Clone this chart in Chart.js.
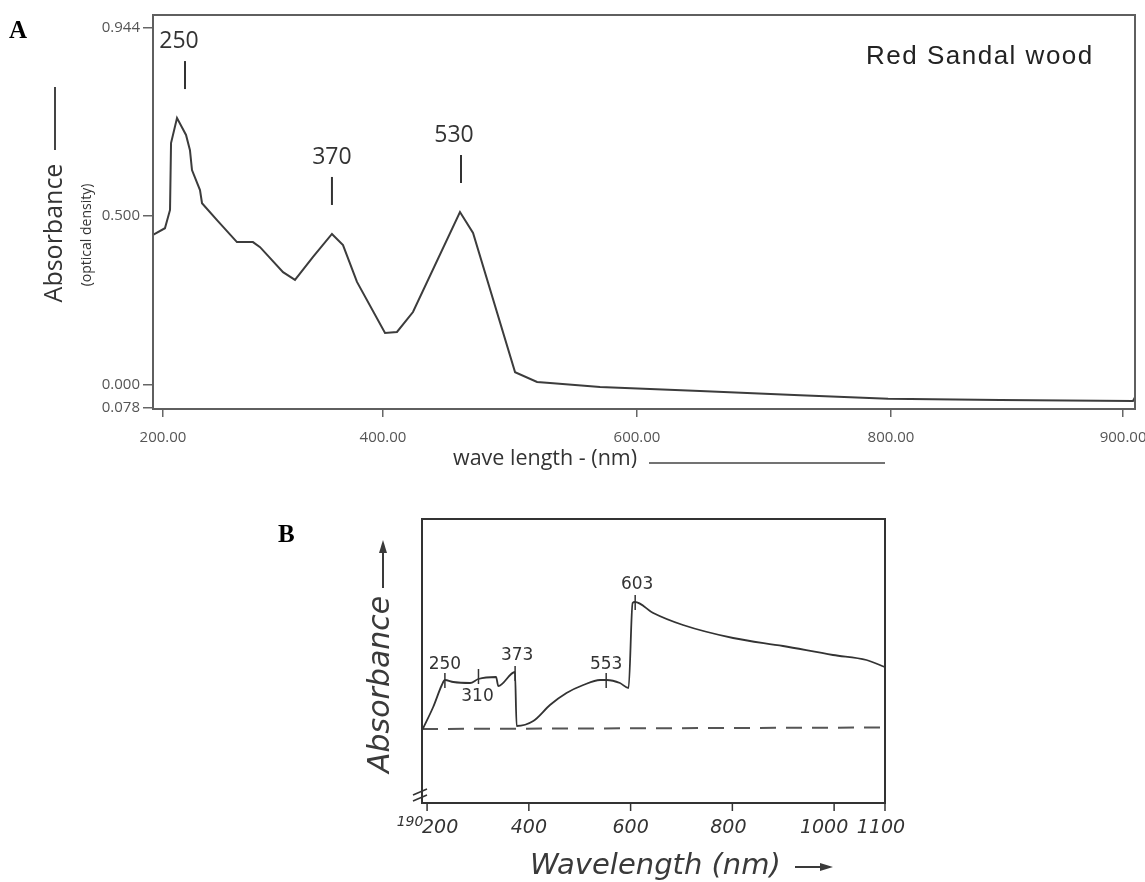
<!DOCTYPE html>
<html>
<head>
<meta charset="utf-8">
<script src="https://cdn.jsdelivr.net/npm/chart.js@4.4.1/dist/chart.umd.min.js"></script>
<style>
    html, body { margin: 0; background: #fff; }
    body { width: 1145px; height: 882px; position: relative; overflow: hidden; }
    canvas { position: absolute; }
    #chartA { left: 0; top: 0; }
    #chartB { left: 260px; top: 480px; }
</style>
</head>
<body>
<canvas id="chartA" width="1145" height="475"></canvas>
<canvas id="chartB" width="660" height="402"></canvas>
<script>
// ---- Panel A: Red Sandal wood spectrum (axis is drawn as printed, not to scale) ----
const aSample = 'Red Sandal wood';
const aWave = [218.9, 228.3, 232.3, 233.1, 237.8, 244.9, 248.0, 249.6, 255.9, 257.5, 269.3, 285.0, 297.6, 303.2,
               321.3, 330.7, 344.9, 359.8, 368.5, 379.5, 401.6, 411.0, 423.6, 460.6, 470.9, 504.0, 521.3, 531.5,
               570.9, 649.6, 728.4, 797.7, 885.8, 990.5, 992.1];
const aAbs = [0.444, 0.464, 0.518, 0.716, 0.790, 0.740, 0.695, 0.636, 0.577, 0.538, 0.488, 0.423, 0.423, 0.408,
              0.334, 0.311, 0.379, 0.447, 0.414, 0.305, 0.154, 0.157, 0.216, 0.512, 0.450, 0.038, 0.009, 0.006,
              -0.006, -0.018, -0.030, -0.041, -0.044, -0.047, -0.036];
const aTickWave = [226.8, 400, 600, 800, 982.7];
const aTickLabels = ['200.00', '400.00', '600.00', '800.00', '900.00'];
const aTickAbs = [-0.068, 0, 0.5, 1.056];
const aTickAbsLabels = ['0.078', '0.000', '0.500', '0.944'];
const aPeakWave = [244.1, 359.8, 461.4];
const aPeakAbs = [0.79, 0.447, 0.512];
const aPeakLabels = ['250', '370', '530'];
const aPeakDx = [-6, 0, -7];

// ---- Panel B: hand drawn spectrum ----
const bWave = [191.4, 212, 229, 235, 251.6, 284.5, 300.8, 335.5, 340, 372.7, 376, 408.7, 441.5, 474, 507, 540, 553,
               579, 596, 603.9, 608.5, 644.5, 703, 801.5, 899.6, 997.8, 1063.6, 1099.5];
const bAbs = [0.00, 0.22, 0.44, 0.49, 0.47, 0.46, 0.50, 0.52, 0.43, 0.57, 0.03, 0.08, 0.24, 0.36, 0.44, 0.49, 0.49,
              0.46, 0.41, 1.26, 1.27, 1.16, 1.04, 0.91, 0.83, 0.74, 0.69, 0.62];
const bBaseWave = [190, 1100];
const bBaseAbs = [0.0, 0.015];
const bTickWave = [190, 200, 400, 600, 800, 1000, 1100];
const bTickLabels = ['190', '200', '400', '600', '800', '1000', '1100'];
const bTickDx = [-12, 13, 0, 0, -4, -10, -4];
const bPeakWave = [235, 301, 373, 552, 609];
const bPeakAbs = [0.48, 0.52, 0.55, 0.48, 1.26];
const bPeakLabels = ['250', '310', '373', '553', '603'];
const bPeakDx = [0, -1, 2, 0, 2];
const bPeakDy = [-16, 20, -18, -16, -18];

const toPoints = (xs, ys) => xs.map((v, i) => ({ x: v, y: ys[i] }));

function drawArrow(ctx, x1, y1, x2, y2) {
    const ang = Math.atan2(y2 - y1, x2 - x1);
    ctx.beginPath();
    ctx.moveTo(x1, y1);
    ctx.lineTo(x2, y2);
    ctx.stroke();
    ctx.beginPath();
    ctx.moveTo(x2 + 3 * Math.cos(ang), y2 + 3 * Math.sin(ang));
    ctx.lineTo(x2 - 10 * Math.cos(ang) + 4 * Math.sin(ang), y2 - 10 * Math.sin(ang) - 4 * Math.cos(ang));
    ctx.lineTo(x2 - 10 * Math.cos(ang) - 4 * Math.sin(ang), y2 - 10 * Math.sin(ang) + 4 * Math.cos(ang));
    ctx.closePath();
    ctx.fill();
}

// frame, labels and titles of panel A
const aDecor = {
    id: 'aDecor',
    afterDraw(chart) {
        const { ctx, chartArea: ca, scales: { x, y } } = chart;
        ctx.save();
        ctx.strokeStyle = '#5f5f5f';
        ctx.lineWidth = 2;
        ctx.strokeRect(ca.left, ca.top, ca.right - ca.left, ca.bottom - ca.top);

        ctx.fillStyle = '#000';
        ctx.font = 'bold 25px "Liberation Serif"';
        ctx.textAlign = 'left';
        ctx.textBaseline = 'alphabetic';
        ctx.fillText('A', 9, 38);

        ctx.fillStyle = '#222';
        ctx.font = '26px "Liberation Sans"';
        ctx.letterSpacing = '1.5px';
        ctx.textAlign = 'left';
        ctx.textBaseline = 'middle';
        ctx.fillText(aSample, 866, 57);
        ctx.letterSpacing = '0px';

        // peak markers
        ctx.fillStyle = '#333';
        ctx.strokeStyle = '#333';
        ctx.lineWidth = 2;
        ctx.font = '23px "Open Sans"';
        ctx.textAlign = 'center';
        aPeakLabels.forEach((t, i) => {
            const px = x.getPixelForValue(aPeakWave[i]);
            const py = y.getPixelForValue(aPeakAbs[i]);
            ctx.beginPath();
            ctx.moveTo(px, py - 57);
            ctx.lineTo(px, py - 29);
            ctx.stroke();
            ctx.fillText(t, px + aPeakDx[i], py - 77);
        });

        // x title with its rule
        ctx.font = '21.5px "Open Sans"';
        ctx.textAlign = 'left';
        ctx.fillText('wave length - (nm)', 453, 459);
        ctx.strokeStyle = '#444';
        ctx.lineWidth = 1.5;
        ctx.beginPath();
        ctx.moveTo(649, 463);
        ctx.lineTo(885, 463);
        ctx.stroke();

        // y title
        ctx.save();
        ctx.translate(55, 233);
        ctx.rotate(-Math.PI / 2);
        ctx.textAlign = 'center';
        ctx.font = '25px "Open Sans"';
        ctx.fillText('Absorbance', 0, 0);
        ctx.lineWidth = 2;
        ctx.beginPath();
        ctx.moveTo(83, 0);
        ctx.lineTo(146, 0);
        ctx.stroke();
        ctx.restore();

        ctx.save();
        ctx.translate(87, 235);
        ctx.rotate(-Math.PI / 2);
        ctx.textAlign = 'center';
        ctx.font = '14px "Open Sans"';
        ctx.fillText('(optical density)', 0, 0);
        ctx.restore();

        ctx.restore();
    }
};

// frame, ticks, peaks and titles of panel B
const bDecor = {
    id: 'bDecor',
    afterDraw(chart) {
        const { ctx, chartArea: ca, scales: { x, y } } = chart;
        ctx.save();
        ctx.strokeStyle = '#333';
        ctx.fillStyle = '#333';
        ctx.lineWidth = 2;
        ctx.strokeRect(ca.left, ca.top, ca.right - ca.left, ca.bottom - ca.top);

        // axis break
        ctx.lineWidth = 1.5;
        [0, 6].forEach(d => {
            ctx.beginPath();
            ctx.moveTo(ca.left - 9, ca.bottom - 2 - d);
            ctx.lineTo(ca.left + 5, ca.bottom - 8 - d);
            ctx.stroke();
        });

        // x ticks and labels
        ctx.textAlign = 'center';
        ctx.textBaseline = 'middle';
        bTickWave.forEach((v, i) => {
            const px = x.getPixelForValue(v);
            if (i > 0) {
                ctx.beginPath();
                ctx.moveTo(px, ca.bottom);
                ctx.lineTo(px, ca.bottom + 8);
                ctx.stroke();
            }
            ctx.font = i === 0 ? 'italic 14px "DejaVu Sans"' : 'italic 19px "DejaVu Sans"';
            ctx.fillText(bTickLabels[i], px + bTickDx[i], ca.bottom + (i === 0 ? 19 : 25));
        });

        // peak marks
        ctx.font = '17px "DejaVu Sans"';
        bPeakLabels.forEach((t, i) => {
            const px = x.getPixelForValue(bPeakWave[i]);
            const py = y.getPixelForValue(bPeakAbs[i]);
            ctx.beginPath();
            ctx.moveTo(px, py - 8);
            ctx.lineTo(px, py + 7);
            ctx.stroke();
            ctx.fillText(t, px + bPeakDx[i], py + bPeakDy[i]);
        });

        ctx.fillStyle = '#000';
        ctx.font = 'bold 25px "Liberation Serif"';
        ctx.textAlign = 'left';
        ctx.textBaseline = 'alphabetic';
        ctx.fillText('B', 18, 62);

        // axis titles with arrows
        ctx.fillStyle = '#3a3a3a';
        ctx.strokeStyle = '#3a3a3a';
        ctx.textBaseline = 'middle';
        ctx.font = 'italic 300 29px "DejaVu Sans"';
        ctx.fillText('Wavelength (nm)', 270, 386);
        ctx.lineWidth = 2;
        drawArrow(ctx, 535, 387, 570, 387);

        ctx.save();
        ctx.translate(121, 293);
        ctx.rotate(-Math.PI / 2);
        ctx.font = 'italic 300 30px "DejaVu Sans"';
        ctx.fillText('Absorbance', 0, 0);
        drawArrow(ctx, 185, 2, 230, 2);
        ctx.restore();

        ctx.restore();
    }
};

const common = {
    responsive: false,
    animation: false,
    devicePixelRatio: 1,
    plugins: { legend: { display: false }, tooltip: { enabled: false } }
};

new Chart(document.getElementById('chartA'), {
    type: 'line',
    data: {
        datasets: [{
            data: toPoints(aWave, aAbs),
            borderColor: '#3c3c3c',
            borderWidth: 2,
            pointRadius: 0,
            tension: 0,
            fill: false
        }]
    },
    options: {
        ...common,
        layout: { padding: { top: 15, right: 10, left: 0, bottom: 0 } },
        scales: {
            x: {
                type: 'linear',
                min: 218.9,
                max: 992.1,
                afterBuildTicks: (s) => { s.ticks = aTickWave.map(v => ({ value: v })); },
                afterFit: (s) => { s.height = 66; s.paddingLeft = 0; s.paddingRight = 0; },
                ticks: {
                    callback: (v, i) => aTickLabels[i],
                    autoSkip: false,
                    maxRotation: 0,
                    padding: 12,
                    color: '#555',
                    font: { family: 'Open Sans', size: 15 }
                },
                grid: { drawOnChartArea: false, tickLength: 8, color: '#666', lineWidth: 1.5 },
                border: { display: false }
            },
            y: {
                type: 'linear',
                min: -0.071,
                max: 1.095,
                afterBuildTicks: (s) => { s.ticks = aTickAbs.map(v => ({ value: v })); },
                afterFit: (s) => { s.width = 153; s.paddingTop = 0; s.paddingBottom = 0; },
                ticks: {
                    callback: (v, i) => aTickAbsLabels[i],
                    autoSkip: false,
                    padding: 3,
                    color: '#555',
                    font: { family: 'Open Sans', size: 15 }
                },
                grid: { drawOnChartArea: false, tickLength: 10, color: '#666', lineWidth: 1.5 },
                border: { display: false }
            }
        }
    },
    plugins: [aDecor]
});

new Chart(document.getElementById('chartB'), {
    type: 'line',
    data: {
        datasets: [{
            data: toPoints(bWave, bAbs),
            borderColor: '#333',
            borderWidth: 1.8,
            pointRadius: 0,
            cubicInterpolationMode: 'monotone',
            fill: false
        }, {
            data: toPoints(bBaseWave, bBaseAbs),
            borderColor: '#555',
            borderWidth: 2,
            borderDash: [16, 10],
            pointRadius: 0,
            fill: false
        }]
    },
    options: {
        ...common,
        layout: { padding: { top: 39, right: 35, left: 0, bottom: 0 } },
        scales: {
            x: {
                type: 'linear',
                min: 190,
                max: 1100,
                afterFit: (s) => { s.height = 79; },
                ticks: { display: false },
                grid: { display: false },
                border: { display: false }
            },
            y: {
                type: 'linear',
                min: -0.74,
                max: 2.10,
                afterFit: (s) => { s.width = 162; },
                ticks: { display: false },
                grid: { display: false },
                border: { display: false }
            }
        }
    },
    plugins: [bDecor]
});
</script>
</body>
</html>
